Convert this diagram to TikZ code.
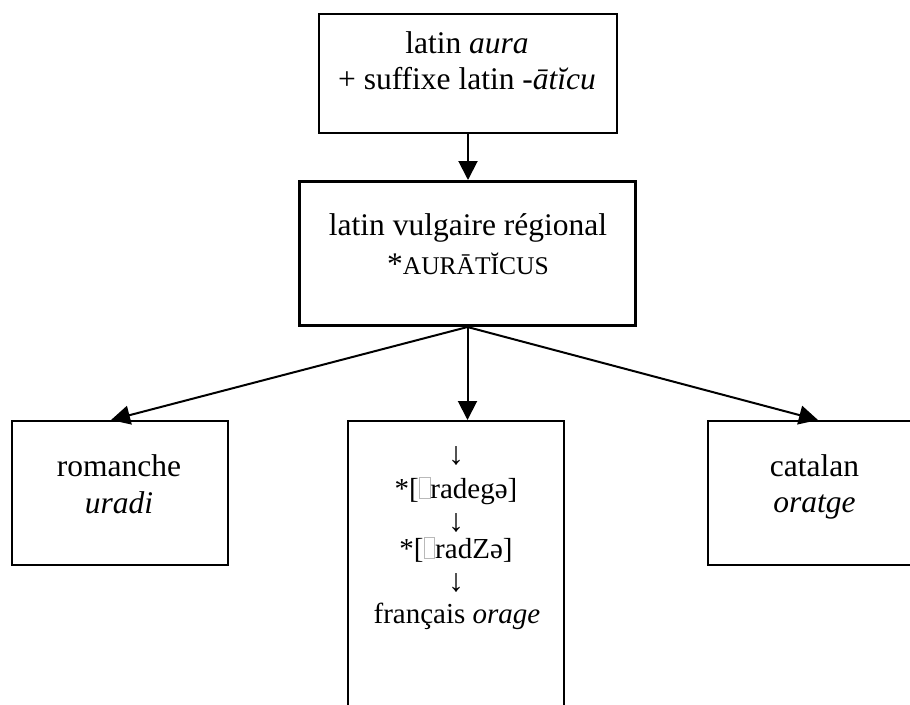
\documentclass[tikz,border=0pt]{standalone}
\usepackage{fontspec}
\setmainfont{Liberation Serif}
\usetikzlibrary{arrows.meta,calc}

% grey frame standing for the missing stress-mark glyph
\newcommand\missingglyph{\tikz[baseline=0pt]\draw[gray!55,line width=0.9pt] (0.8pt,0pt) rectangle (11.5pt,21pt);}

\begin{document}
\begin{tikzpicture}[x=1pt,y=-1pt,
  box/.style={draw,line width=2pt,inner sep=0pt,anchor=north west},
  txt/.style={anchor=base,inner sep=0pt,font=\fontsize{31.5}{36}\selectfont},
  stxt/.style={anchor=base,inner sep=0pt,font=\fontsize{29}{31}\selectfont},
  down/.style={anchor=base,inner sep=0pt,text height=18pt,text depth=0pt,font=\fontsize{32}{32}\selectfont},
  arr/.style={line width=2pt,-{Triangle[length=19pt,width=19pt]}}
]
\useasboundingbox (0,0) rectangle (910,704);
\clip (0,0) rectangle (910,704);

% boxes
\node[box,minimum width=298pt,minimum height=119pt] (src) at (318,13) {};
\node[box,line width=3pt,minimum width=336pt,minimum height=144pt] (mid) at (298,180) {};
\node[box,minimum width=216pt,minimum height=144pt] (lft) at (11,420) {};
\node[box,minimum width=216pt,minimum height=300pt] (cen) at (347,420) {};
\node[box,minimum width=215pt,minimum height=144pt] (rgt) at (707,420) {};

% texts
\node[txt] (src1) at (467,53) {latin \textit{aura}};
\node[txt] (src2) at (467,89) {+ suffixe latin -\textit{ātĭcu}};
\node[txt] (mid1) at (468,235) {latin vulgaire régional};
\node[txt] (mid2) at (468,274) {*{\fontsize{25.5}{30}\selectfont AURĀTĬCUS}};
\node[txt] (lft1) at (119,476) {romanche};
\node[txt] (lft2) at (119,513) {\textit{uradi}};
\node[txt] (rgt1) at (814.5,476) {catalan};
\node[txt] (rgt2) at (814.5,512) {\textit{oratge}};
\node[down] (cen1) at (456,464) {↓};
\node[stxt] (cen2) at (456,498) {*[\missingglyph radegə]};
\node[down] (cen3) at (456,531) {↓};
\node[stxt] (cen4) at (456,558) {*[\missingglyph radZə]};
\node[down] (cen5) at (456,591) {↓};
\node[stxt] (cen6) at (457,623) {français \textit{orage}};

% connectors
\draw[arr] (src.south) -- (src.south |- mid.north);
\draw[arr] (mid.south) -- ($(lft.north)+(-9,0)$);
\draw[arr] (mid.south) -- (mid.south |- cen.north);
\draw[arr] (mid.south) -- ($(rgt.north)+(2.5,0)$);
\end{tikzpicture}
\end{document}
